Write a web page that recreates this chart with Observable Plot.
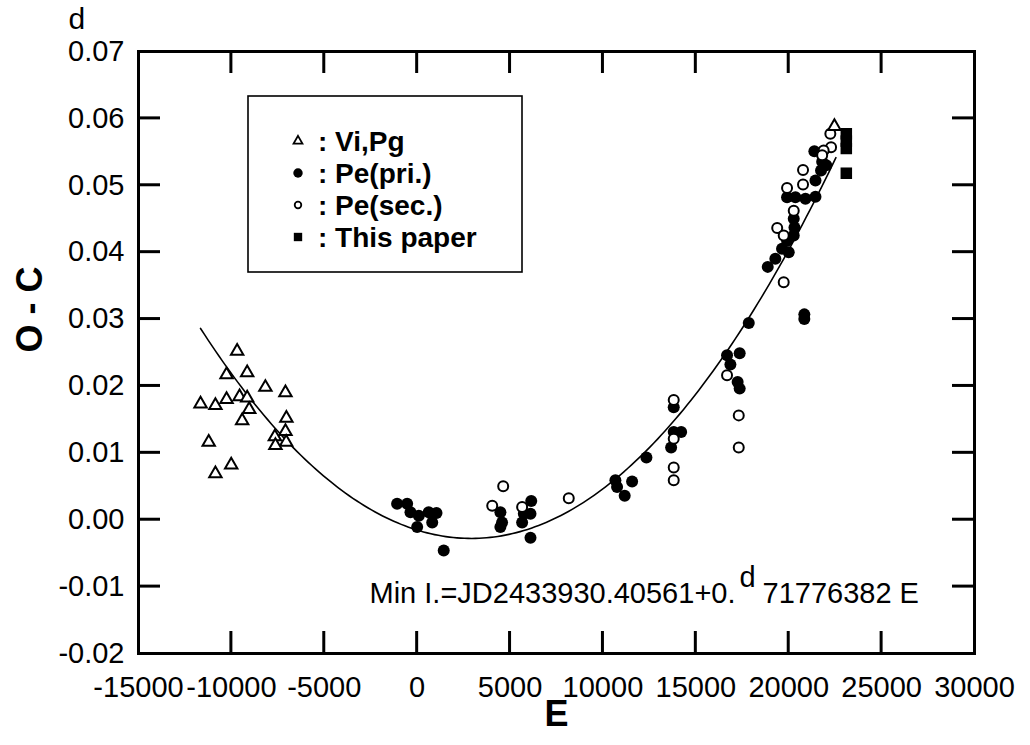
<!DOCTYPE html>
<html><head><meta charset="utf-8">
<script src="https://cdn.jsdelivr.net/npm/d3@7"></script>
<script src="https://cdn.jsdelivr.net/npm/@observablehq/plot@0.6"></script>
<style>
body{margin:0;background:#fff;}
#chart{width:1030px;height:745px;}
</style></head><body><div id="chart"></div>
<script>
// ---- Data ----
// Vi,Pg (open triangles)
const viPgE  = [-9690,-10260,-9150,-8170,-7090,-11660,-10860,-10260,-9560,-9150,-9040,-9420,-7040,-7090,-7660,-7050,-7630,-11220,-10010,-10860,22460];
const viPgOC = [0.0252,0.0217,0.0220,0.0198,0.0190,0.0173,0.0171,0.0180,0.0184,0.0182,0.0165,0.0148,0.0152,0.0132,0.0124,0.0116,0.0111,0.0116,0.0082,0.0069,0.0588];
// Pe(pri.) (filled circles)
const priE  = [-1080,-540,-360,90,620,1040,0,810,1430,4480,4570,4480,6140,5740,6100,5650,6100,10670,10760,11170,11570,12340,13810,13810,14210,13670,17850,16680,17360,16860,17250,17360,20840,20840,21380,21800,21740,22020,21440,19910,20360,20900,21440,20270,20310,20270,19910,19640,20000,19280,18870];
const priOC = [0.0024,0.0024,0.0011,0.0006,0.0011,0.0010,-0.0011,-0.0004,-0.0046,0.0011,-0.0004,-0.0011,0.0028,0.0009,0.0009,-0.0004,-0.0027,0.0059,0.0049,0.0036,0.0057,0.0093,0.0168,0.0131,0.0131,0.0108,0.0294,0.0246,0.0249,0.0232,0.0206,0.0196,0.0307,0.0300,0.0551,0.0535,0.0522,0.0530,0.0507,0.0482,0.0482,0.0480,0.0483,0.0450,0.0437,0.0425,0.0417,0.0405,0.0400,0.0390,0.0378];
// Pe(sec.) (open circles)
const secE  = [4630,4040,5650,8160,13810,13810,13810,13810,16680,17310,17310,22240,22280,21880,21800,20770,20770,19910,20270,19380,19730,19730];
const secOC = [0.0050,0.0021,0.0019,0.0032,0.0179,0.0121,0.0078,0.0059,0.0216,0.0156,0.0108,0.0577,0.0557,0.0552,0.0545,0.0523,0.0501,0.0496,0.0462,0.0436,0.0425,0.0355];
// This paper (filled squares)
const paperE  = [23100,23100,23100,23100];
const paperOC = [0.0577,0.0566,0.0555,0.0518];
// Quadratic ephemeris fit O-C = A + B*E + C*E^2 (drawn over the fitted range)
const fitA = -0.001545, fitB = -8.614e-7, fitC = 1.478e-10;
const fitRange = [-11660, 22700];

// Axis ticks
const xTicks = [-15000,-10000,-5000,0,5000,10000,15000,20000,25000,30000];
const yTicks = [-0.02,-0.01,0.00,0.01,0.02,0.03,0.04,0.05,0.06,0.07];
const xInner = xTicks.slice(1,-1);
const yInner = yTicks.slice(1,-1);

const legendItems = [
  {symbol:"triangle", fill:"white", label:": Vi,Pg"},
  {symbol:"circle", fill:"black", label:": Pe(pri.)"},
  {symbol:"circle", fill:"white", label:": Pe(sec.)"},
  {symbol:"square", fill:"black", label:": This paper"}
];

// ---- Build tables ----
const zip = (E, OC) => E.map((e,i) => ({E:e, OC:OC[i]}));
const viPg = zip(viPgE, viPgOC), pri = zip(priE, priOC), sec = zip(secE, secOC), paper = zip(paperE, paperOC);
const curve = d3.range(fitRange[0], fitRange[1] + 1, 200).map(E => ({E, OC: fitA + fitB*E + fitC*E*E}));

const W = 1030, H = 745, mL = 138, mR = 56, mT = 51, mB = 92;
const TICK = 22;
const FONT = "'Liberation Sans', Arial, Helvetica, sans-serif";

const chart = Plot.plot({
  width: W, height: H,
  marginLeft: mL, marginRight: mR, marginTop: mT, marginBottom: mB,
  style: {fontFamily: FONT, background: "#fff", color: "#000", overflow: "visible"},
  x: {domain: [-15000, 30000]},
  y: {domain: [-0.02, 0.07]},
  marks: [
    Plot.frame({strokeWidth: 3, fill: "none", stroke: "black"}),
    Plot.axisX(xTicks, {tickSize: 0, tickPadding: 23, fontSize: 29, tickFormat: d => String(d), label: null}),
    Plot.axisY(yTicks, {tickSize: 0, tickPadding: 14, fontSize: 29, tickFormat: d => d.toFixed(2), label: null}),
    Plot.line(curve, {x: "E", y: "OC", strokeWidth: 1.6}),
    Plot.dot(pri, {x: "E", y: "OC", r: 6, fill: "black", stroke: "none"}),
    Plot.dot(sec, {x: "E", y: "OC", r: 5, fill: "white", stroke: "black", strokeWidth: 2}),
    Plot.dot(viPg, {x: "E", y: "OC", r: 4.6, symbol: "triangle", fill: "white", stroke: "black", strokeWidth: 2}),
    Plot.dot(paper, {x: "E", y: "OC", r: 6.5, symbol: "square", fill: "black", stroke: "none"}),
    Plot.text(["O - C"], {text: d => d, frameAnchor: "left", dx: -108, rotate: -90, fontSize: 36, fontWeight: "bold"}),
    Plot.text(["E"], {text: d => d, frameAnchor: "bottom", dy: 72, fontSize: 36, fontWeight: "bold"}),
    Plot.text(["d"], {text: d => d, frameAnchor: "top-left", dx: -70, dy: -23, lineAnchor: "bottom", fontSize: 30}),
    Plot.text(["Min I.=JD2433930.40561+0."], {text: d => d, frameAnchor: "bottom-left", dx: 597, dy: -51, textAnchor: "end", lineAnchor: "bottom", fontSize: 29}),
    Plot.text(["d"], {text: d => d, frameAnchor: "bottom-left", dx: 609, dy: -67, textAnchor: "middle", lineAnchor: "bottom", fontSize: 29}),
    Plot.text(["71776382 E"], {text: d => d, frameAnchor: "bottom-left", dx: 624, dy: -51, textAnchor: "start", lineAnchor: "bottom", fontSize: 29})
  ]
});
document.getElementById("chart").appendChild(chart);

const svgSel = d3.select(chart);

// ---- Inward ticks on all four sides, placed with the plot's own scales ----
const xScale = chart.scale("x"), yScale = chart.scale("y");
const frameTop = mT, frameBottom = H - mB, frameLeft = mL, frameRight = W - mR;
const tickGroup = svgSel.append("g").attr("stroke", "black").attr("stroke-width", 3).attr("fill", "none");
xInner.forEach(v => {
  const px = xScale.apply(v);
  tickGroup.append("line").attr("x1", px).attr("x2", px).attr("y1", frameBottom).attr("y2", frameBottom - TICK);
  tickGroup.append("line").attr("x1", px).attr("x2", px).attr("y1", frameTop).attr("y2", frameTop + TICK);
});
yInner.forEach(v => {
  const py = yScale.apply(v);
  tickGroup.append("line").attr("y1", py).attr("y2", py).attr("x1", frameLeft).attr("x2", frameLeft + TICK);
  tickGroup.append("line").attr("y1", py).attr("y2", py).attr("x1", frameRight).attr("x2", frameRight - TICK);
});

// ---- Legend box inside the plot ----
const lg = svgSel.append("g").attr("font-family", FONT).attr("text-anchor", "start");
lg.append("rect").attr("x", 248).attr("y", 96).attr("width", 274).attr("height", 176)
  .attr("fill", "white").attr("stroke", "black").attr("stroke-width", 1.6);
const symMap = {triangle: d3.symbolTriangle, circle: d3.symbolCircle, square: d3.symbolSquare};
const sizes = {triangle: 34, circle: 70, square: 70};
legendItems.forEach((it, i) => {
  const cy = 141 + i * 32;
  const open = it.fill === "white";
  const size = it.symbol === "circle" && open ? 34 : sizes[it.symbol];
  lg.append("path").attr("d", d3.symbol(symMap[it.symbol], size)())
    .attr("transform", `translate(298,${cy})`)
    .attr("fill", it.fill).attr("stroke", open ? "black" : "none").attr("stroke-width", 1.8);
  lg.append("text").attr("x", 318).attr("y", cy + 10).attr("text-anchor", "start")
    .attr("font-size", 28).attr("font-weight", "bold").text(it.label);
});
</script>
</body></html>
